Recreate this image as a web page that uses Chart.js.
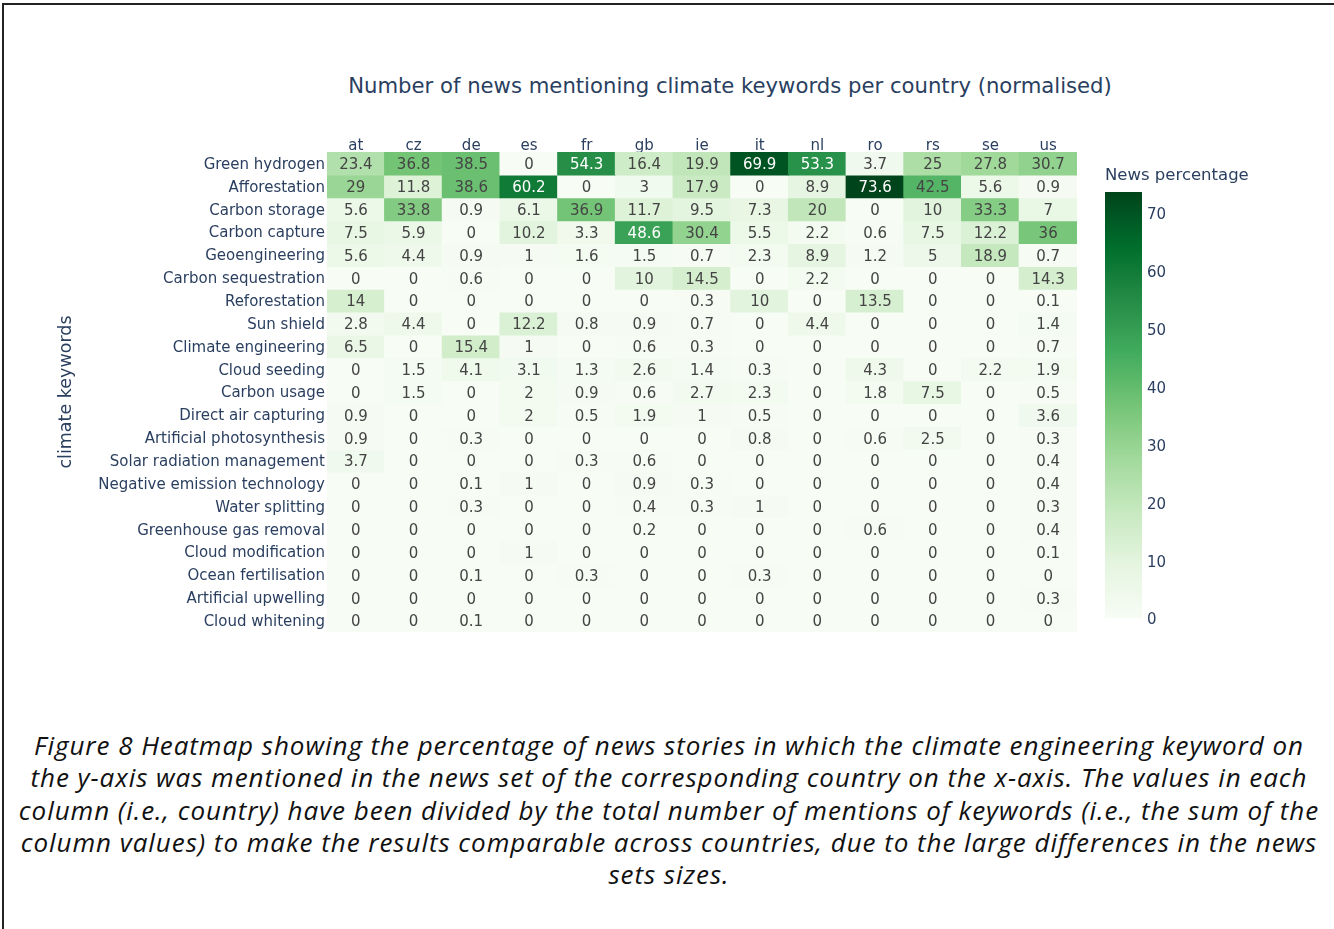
<!DOCTYPE html>
<html>
<head>
<meta charset="utf-8">
<script src="https://cdn.jsdelivr.net/npm/chart.js@4.4.1/dist/chart.umd.min.js"></script>
<style>
  html, body { margin: 0; padding: 0; background: #fff; }
  body { width: 1334px; height: 929px; position: relative; overflow: hidden; }
  .frame { position: absolute; left: 2px; top: 3px; width: 1340px; height: 940px;
           border-top: 2px solid #222; border-left: 2px solid #222; }
  .title { position: absolute; left: 280px; width: 900px; top: 73px; text-align: center;
           font: 21.2px "DejaVu Sans", Verdana, sans-serif; color: #2a3f5f; white-space: nowrap; }
  #heat-box { position: absolute; left: 0; top: 0; width: 1334px; height: 660px; }
  #bar-box { position: absolute; left: 1100px; top: 160px; width: 200px; height: 472px; }
  .caption { position: absolute; left: 0; width: 1338px; top: 729px; text-align: center;
             font: italic 26px "Open Sans", sans-serif; letter-spacing: 0.95px; line-height: 32.3px;
             color: #111; white-space: nowrap; }
</style>
</head>
<body>
<div class="frame"></div>
<div class="title">Number of news mentioning climate keywords per country (normalised)</div>
<div id="heat-box"><canvas id="heat"></canvas></div>
<div id="bar-box"><canvas id="colorbar"></canvas></div>
<div class="caption">Figure 8 Heatmap showing the percentage of news stories in which the climate engineering keyword on<br>the y-axis was mentioned in the news set of the corresponding country on the x-axis. The values in each<br>column (i.e., country) have been divided by the total number of mentions of keywords (i.e., the sum of the<br>column values) to make the results comparable across countries, due to the large differences in the news<br>sets sizes.</div>

<script>
// Data
const countries = ['at', 'cz', 'de', 'es', 'fr', 'gb', 'ie', 'it', 'nl', 'ro', 'rs', 'se', 'us']

const keywords = [
    'Green hydrogen', 'Afforestation', 'Carbon storage', 'Carbon capture', 'Geoengineering',
    'Carbon sequestration', 'Reforestation', 'Sun shield', 'Climate engineering', 'Cloud seeding',
    'Carbon usage', 'Direct air capturing', 'Artificial photosynthesis', 'Solar radiation management',
    'Negative emission technology', 'Water splitting', 'Greenhouse gas removal', 'Cloud modification',
    'Ocean fertilisation', 'Artificial upwelling', 'Cloud whitening'
]

// one row per keyword, columns follow countries
const newsShare = [
    [23.4, 36.8, 38.5, 0, 54.3, 16.4, 19.9, 69.9, 53.3, 3.7, 25, 27.8, 30.7],
    [29, 11.8, 38.6, 60.2, 0, 3, 17.9, 0, 8.9, 73.6, 42.5, 5.6, 0.9],
    [5.6, 33.8, 0.9, 6.1, 36.9, 11.7, 9.5, 7.3, 20, 0, 10, 33.3, 7],
    [7.5, 5.9, 0, 10.2, 3.3, 48.6, 30.4, 5.5, 2.2, 0.6, 7.5, 12.2, 36],
    [5.6, 4.4, 0.9, 1, 1.6, 1.5, 0.7, 2.3, 8.9, 1.2, 5, 18.9, 0.7],
    [0, 0, 0.6, 0, 0, 10, 14.5, 0, 2.2, 0, 0, 0, 14.3],
    [14, 0, 0, 0, 0, 0, 0.3, 10, 0, 13.5, 0, 0, 0.1],
    [2.8, 4.4, 0, 12.2, 0.8, 0.9, 0.7, 0, 4.4, 0, 0, 0, 1.4],
    [6.5, 0, 15.4, 1, 0, 0.6, 0.3, 0, 0, 0, 0, 0, 0.7],
    [0, 1.5, 4.1, 3.1, 1.3, 2.6, 1.4, 0.3, 0, 4.3, 0, 2.2, 1.9],
    [0, 1.5, 0, 2, 0.9, 0.6, 2.7, 2.3, 0, 1.8, 7.5, 0, 0.5],
    [0.9, 0, 0, 2, 0.5, 1.9, 1, 0.5, 0, 0, 0, 0, 3.6],
    [0.9, 0, 0.3, 0, 0, 0, 0, 0.8, 0, 0.6, 2.5, 0, 0.3],
    [3.7, 0, 0, 0, 0.3, 0.6, 0, 0, 0, 0, 0, 0, 0.4],
    [0, 0, 0.1, 1, 0, 0.9, 0.3, 0, 0, 0, 0, 0, 0.4],
    [0, 0, 0.3, 0, 0, 0.4, 0.3, 1, 0, 0, 0, 0, 0.3],
    [0, 0, 0, 0, 0, 0.2, 0, 0, 0, 0.6, 0, 0, 0.4],
    [0, 0, 0, 1, 0, 0, 0, 0, 0, 0, 0, 0, 0.1],
    [0, 0, 0.1, 0, 0.3, 0, 0, 0.3, 0, 0, 0, 0, 0],
    [0, 0, 0, 0, 0, 0, 0, 0, 0, 0, 0, 0, 0.3],
    [0, 0, 0.1, 0, 0, 0, 0, 0, 0, 0, 0, 0, 0]
]

const colorbarTicks = [0, 10, 20, 30, 40, 50, 60, 70]

const zMax = Math.max(...newsShare.flat())

// plotly "Greens" scale
const greens = [
    [0, [247, 252, 245]], [0.125, [229, 245, 224]], [0.25, [199, 233, 192]],
    [0.375, [161, 217, 155]], [0.5, [116, 196, 118]], [0.625, [65, 171, 93]],
    [0.75, [35, 139, 69]], [0.875, [0, 109, 44]], [1, [0, 68, 27]]
]

function greenFor(v) {
    const t = Math.min(Math.max(v / zMax, 0), 1)
    for (let i = 1; i < greens.length; i++) {
        if (t <= greens[i][0]) {
            const [t0, c0] = greens[i - 1]
            const [t1, c1] = greens[i]
            const f = (t - t0) / (t1 - t0)
            const c = c0.map((a, k) => Math.round(a + (c1[k] - a) * f))
            return `rgb(${c[0]},${c[1]},${c[2]})`
        }
    }
    return 'rgb(0,68,27)'
}

const FONT = '"DejaVu Sans", Verdana, sans-serif'
const INK = '#2a3f5f'

// Write the value in each cell
const cellText = {
    id: 'cellText',
    afterDatasetsDraw(chart) {
        const ctx = chart.ctx
        ctx.save()
        ctx.font = '15px ' + FONT
        ctx.textAlign = 'center'
        ctx.textBaseline = 'middle'
        chart.data.datasets.forEach((ds, r) => {
            chart.getDatasetMeta(r).data.forEach((bar, c) => {
                const v = newsShare[r][c]
                ctx.fillStyle = v > 45 ? '#ffffff' : '#444444'
                ctx.fillText(String(v), bar.x, (bar.y + bar.base) / 2 + 2)
            })
        })
        ctx.restore()
    }
}

// Heatmap: one floating-bar dataset per keyword row
new Chart(document.getElementById('heat'), {
    type: 'bar',
    data: {
        labels: countries,
        datasets: keywords.map((k, r) => ({
            label: k,
            data: countries.map(() => [r, r + 1]),
            backgroundColor: ctx => greenFor(newsShare[r][ctx.dataIndex]),
            borderWidth: 0,
            barPercentage: 1,
            categoryPercentage: 1,
            grouped: false,
            inflateAmount: 0.6
        }))
    },
    options: {
        responsive: true,
        maintainAspectRatio: false,
        animation: false,
        layout: { padding: { left: 50, top: 118, right: 257, bottom: 28 } },
        plugins: { legend: { display: false }, tooltip: { enabled: false } },
        scales: {
            x: {
                type: 'category',
                position: 'top',
                grid: { display: false, drawTicks: false },
                border: { display: false },
                ticks: { color: INK, font: { family: FONT, size: 15 }, padding: -3, maxRotation: 0 },
                afterFit: scale => { scale.height = 34 }
            },
            y: {
                type: 'linear',
                min: 0,
                max: keywords.length,
                reverse: true,
                grid: { display: false, drawTicks: false },
                border: { display: false },
                afterBuildTicks: scale => { scale.ticks = keywords.map((k, i) => ({ value: i + 0.5 })) },
                afterFit: scale => { scale.width = 277 },
                ticks: {
                    autoSkip: false,
                    color: INK,
                    font: { family: FONT, size: 15 },
                    padding: 2,
                    labelOffset: 1.5,
                    callback: (v, i) => keywords[i]
                },
                title: {
                    display: true,
                    text: 'climate keywords',
                    color: INK,
                    font: { family: FONT, size: 17.5 },
                    padding: 6
                }
            }
        }
    },
    plugins: [cellText]
})

// Colour bar
new Chart(document.getElementById('colorbar'), {
    type: 'bar',
    data: {
        labels: [''],
        datasets: [{
            data: [[0, zMax]],
            borderWidth: 0,
            barPercentage: 1,
            categoryPercentage: 1,
            backgroundColor: ctx => {
                const chart = ctx.chart
                if (!chart.chartArea) return greenFor(zMax / 2)
                const ys = chart.scales.y
                const g = chart.ctx.createLinearGradient(0, ys.getPixelForValue(0), 0, ys.getPixelForValue(zMax))
                greens.forEach(([t, c]) => g.addColorStop(t, `rgb(${c[0]},${c[1]},${c[2]})`))
                return g
            }
        }]
    },
    options: {
        responsive: true,
        maintainAspectRatio: false,
        animation: false,
        layout: { padding: { left: 5, top: 0, right: 0, bottom: 12 } },
        plugins: {
            legend: { display: false },
            tooltip: { enabled: false },
            title: {
                display: true,
                text: 'News percentage',
                align: 'start',
                color: INK,
                font: { family: FONT, size: 16.5, weight: 'normal', lineHeight: 1.2 },
                padding: { top: 6, bottom: 6.2 }
            }
        },
        scales: {
            x: { display: false },
            y: {
                position: 'right',
                min: 0,
                max: zMax,
                grid: { display: false, drawTicks: false },
                border: { display: false },
                afterBuildTicks: scale => { scale.ticks = colorbarTicks.map(v => ({ value: v })) },
                afterFit: scale => { scale.width = 158 },
                ticks: { color: INK, font: { family: FONT, size: 15 }, padding: 5, labelOffset: 2.5 }
            }
        }
    }
})
</script>
</body>
</html>
